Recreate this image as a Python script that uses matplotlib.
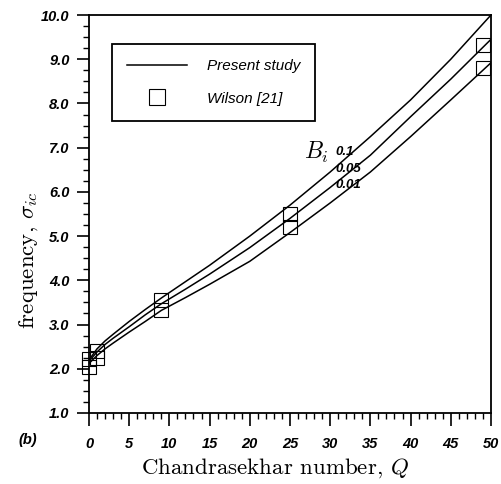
import numpy as np
import matplotlib.pyplot as plt
from matplotlib.lines import Line2D
from matplotlib.ticker import MultipleLocator, FormatStrFormatter

plt.rcParams['mathtext.fontset'] = 'cm'

# ---- data ----
Q = [0, 1, 2, 3, 5, 7, 9, 12, 15, 20, 25, 30, 35, 40, 45, 50]
sigma_bi01 = [2.20, 2.45, 2.63, 2.78, 3.07, 3.34, 3.60, 3.97, 4.34, 5.00, 5.70, 6.45, 7.25, 8.08, 9.00, 10.00]
sigma_bi005 = [2.17, 2.38, 2.55, 2.69, 2.95, 3.22, 3.47, 3.80, 4.14, 4.74, 5.40, 6.10, 6.83, 7.70, 8.55, 9.45]
sigma_bi001 = [2.12, 2.30, 2.45, 2.58, 2.83, 3.07, 3.32, 3.61, 3.91, 4.43, 5.08, 5.75, 6.45, 7.25, 8.08, 8.92]

wilson_Q = [0, 0, 1, 1, 9, 9, 25, 25, 49, 49]
wilson_sigma = [2.05, 2.22, 2.25, 2.40, 3.33, 3.55, 5.20, 5.50, 8.80, 9.33]

bi_labels = ["0.1", "0.05", "0.01"]
bi_label_pos = [(30.6, 6.90), (30.6, 6.52), (30.6, 6.16)]

tickfont = dict(family='Liberation Sans', style='italic', weight='bold', size=10.5)

fig = plt.figure(figsize=(5.01, 4.84), dpi=100)
ax = fig.add_axes([0.1776, 0.1467, 0.8024, 0.8223])

for s in (sigma_bi01, sigma_bi005, sigma_bi001):
    ax.plot(Q, s, color='black', linewidth=1.1)

ax.plot(wilson_Q, wilson_sigma, linestyle='none', marker='s', markersize=9.5,
        markerfacecolor='none', markeredgecolor='black', markeredgewidth=0.8,
        clip_on=False)

ax.set_xlim(0, 50)
ax.set_ylim(1.0, 10.0)
ax.xaxis.set_major_locator(MultipleLocator(5))
ax.xaxis.set_minor_locator(MultipleLocator(1))
ax.yaxis.set_major_locator(MultipleLocator(1))
ax.yaxis.set_minor_locator(MultipleLocator(0.25))
ax.yaxis.set_major_formatter(FormatStrFormatter('%.1f'))
ax.tick_params(which='major', direction='out', length=9, width=1.2, pad=5)
ax.tick_params(which='minor', direction='out', length=4, width=1.0)
ax.tick_params(axis='x', which='major', pad=8)
for lab in ax.get_xticklabels() + ax.get_yticklabels():
    lab.set_fontproperties(tickfont)
for sp in ax.spines.values():
    sp.set_linewidth(1.3)

ax.set_xlabel(r"Chandrasekhar number, $Q$", family='cmr10', fontsize=16.5,
              labelpad=4, x=0.463)
ax.set_ylabel(r"frequency, $\sigma_{ic}$", family='cmr10', fontsize=16.5,
              labelpad=1, y=0.384)

# Bi annotations
ax.text(28.3, 6.9, r"$B_i$", fontsize=17, ha='center', va='center')
for lab, (qx, qy) in zip(bi_labels, bi_label_pos):
    ax.text(qx, qy, lab, ha='left', va='center', family='Liberation Sans',
            style='italic', weight='bold', fontsize=9.5)

fig.text(0.036, 0.091, "(b)", family='Liberation Sans', style='italic',
         weight='bold', fontsize=10.5, va='center')

handles = [Line2D([], [], color='black', linewidth=1.1),
           Line2D([], [], linestyle='none', marker='s', markersize=12,
                  markerfacecolor='none', markeredgecolor='black', markeredgewidth=0.8)]
leg = ax.legend(handles, ["Present study", "Wilson [21]"], loc='upper left',
                bbox_to_anchor=(0.057, 0.927), borderaxespad=0, fancybox=False,
                framealpha=1, edgecolor='black', handlelength=3.9, handletextpad=1.3,
                labelspacing=1.2, borderpad=1.0,
                prop=dict(family='Liberation Sans', style='italic', size=11))
leg.get_frame().set_linewidth(1.3)

plt.savefig("out.png", dpi=100)
